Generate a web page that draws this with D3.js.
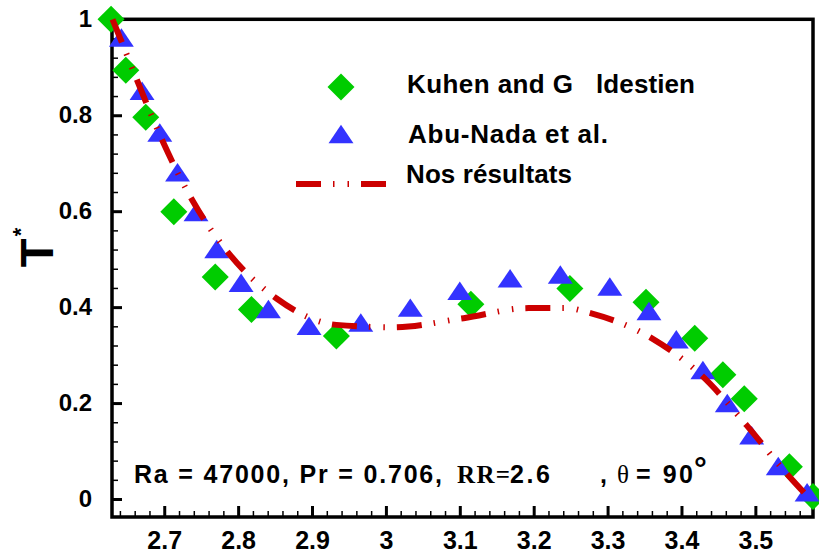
<!DOCTYPE html>
<html>
<head>
<meta charset="utf-8">
<script src="https://cdn.jsdelivr.net/npm/d3@7"></script>
<style>
body {margin: 0; background: #fff}
svg {display: block; font-family: "Liberation Sans", Arial, sans-serif; font-weight: bold}
</style>
</head>
<body>
<svg width="819" height="558"></svg>
<script>
'use strict';
// values
let aKuhenX = [2.628, 2.648, 2.675, 2.713, 2.769, 2.818, 2.933, 3.115, 3.249, 3.352, 3.418, 3.456, 3.485, 3.546, 3.578]
let aKuhenY = [1.000, 0.894, 0.796, 0.599, 0.463, 0.395, 0.340, 0.406, 0.439, 0.410, 0.335, 0.259, 0.209, 0.067, 0.005]

let aAbuX = [2.642, 2.670, 2.694, 2.718, 2.743, 2.771, 2.804, 2.841, 2.896, 2.966, 3.033,
	3.100, 3.168, 3.236, 3.303, 3.356, 3.393, 3.429, 3.462, 3.495, 3.531, 3.570]
let aAbuY = [0.962, 0.851, 0.764, 0.681, 0.598, 0.521, 0.451, 0.396, 0.361, 0.368, 0.399,
	0.434, 0.460, 0.468, 0.443, 0.392, 0.333, 0.269, 0.200, 0.133, 0.069, 0.014]

let aOursX = [2.630, 2.640, 2.664, 2.699, 2.739, 2.789, 2.852, 2.933, 3.010, 3.105, 3.193, 3.245, 3.278, 3.360, 3.429, 3.488, 3.544, 3.574]
let aOursY = [1.000, 0.962, 0.870, 0.742, 0.620, 0.509, 0.418, 0.363, 0.358, 0.377, 0.398, 0.398, 0.387, 0.335, 0.255, 0.154, 0.050, 0.000]

let aXTicks = [2.7, 2.8, 2.9, 3.0, 3.1, 3.2, 3.3, 3.4, 3.5]
let aYTicks = [0, 0.2, 0.4, 0.6, 0.8, 1]
let aLegend = ["Kuhen and G", "Abu-Nada et al.", "Nos résultats"]

let eSvg = d3.select("svg")
let dLeft = 112, dRight = 813, dTop = 19.3, dBottom = 517
let cGreen = "#00cc00", cBlue = "#3333ff", cRed = "#cc0000"
let sDash = "25,12,1.5,13,1.5,12"

let xScale = d3.scaleLinear().domain([2.6293, 3.578]).range([dLeft, dRight])
let yScale = d3.scaleLinear().domain([-0.0375, 1]).range([dBottom, dTop])

// marker shapes as d3 symbol types
let tDiamond = {draw(ctx, size) {
	let r = Math.sqrt(size / 2)
	ctx.moveTo(0, -r); ctx.lineTo(r, 0); ctx.lineTo(0, r); ctx.lineTo(-r, 0); ctx.closePath()}}
let tTriangle = {draw(ctx, size) {
	let w = Math.sqrt(size * 1.35), h = w * 0.74
	ctx.moveTo(0, -h / 2); ctx.lineTo(w / 2, h / 2); ctx.lineTo(-w / 2, h / 2); ctx.closePath()}}

// frame
eSvg.append("rect")
	.attr("x", dLeft).attr("y", dTop)
	.attr("width", dRight - dLeft).attr("height", dBottom - dTop)
	.attr("fill", "none").attr("stroke", "#000").attr("stroke-width", 3.5)

function styleAxis(g, w) {
	g.select(".domain").remove()
	g.selectAll("line").attr("stroke", "#000").attr("stroke-width", w)}

// minor ticks
let aXMinor = d3.range(2.64, 3.57, 0.02).filter(v => Math.abs(v * 10 - Math.round(v * 10)) > 1e-6)
let aYMinor = d3.range(0.04, 1, 0.04).filter(v => Math.abs(v * 5 - Math.round(v * 5)) > 1e-6)

eSvg.append("g").attr("transform", `translate(0,${dBottom})`)
	.call(d3.axisBottom(xScale).tickValues(aXMinor).tickFormat("").tickSize(-6))
	.call(g => styleAxis(g, 1.5))
eSvg.append("g").attr("transform", `translate(${dLeft},0)`)
	.call(d3.axisLeft(yScale).tickValues(aYMinor).tickFormat("").tickSize(-6))
	.call(g => styleAxis(g, 1.5))

// major ticks
let eX = eSvg.append("g").attr("transform", `translate(0,${dBottom})`)
	.call(d3.axisBottom(xScale).tickValues(aXTicks).tickFormat(d3.format("")).tickSize(-11).tickPadding(14))
	.call(g => styleAxis(g, 3))
eX.selectAll("text").attr("font-size", 25).attr("font-family", null).attr("fill", "#000")

let eY = eSvg.append("g").attr("transform", `translate(${dLeft},0)`)
	.call(d3.axisLeft(yScale).tickValues(aYTicks).tickFormat(d3.format("")).tickSize(-10).tickPadding(20))
	.call(g => styleAxis(g, 3))
eY.selectAll("text").attr("font-size", 24).attr("font-family", null).attr("fill", "#000")

// y label
eSvg.append("text")
	.attr("transform", "translate(53,253) rotate(-90)")
	.attr("text-anchor", "middle").attr("font-size", 47).text("T")
eSvg.append("text")
	.attr("transform", "translate(28,232) rotate(-90)")
	.attr("text-anchor", "middle").attr("font-size", 22).text("*")

// markers
let kuhen = aKuhenX.map((x, i) => ({x: x, y: aKuhenY[i]}))
let abu = aAbuX.map((x, i) => ({x: x, y: aAbuY[i]}))
let ours = aOursX.map((x, i) => ({x: x, y: aOursY[i]}))

eSvg.append("g").selectAll("path").data(kuhen).enter().append("path")
	.attr("transform", d => `translate(${xScale(d.x)},${yScale(d.y)})`)
	.attr("d", d3.symbol(tDiamond, 365))
	.attr("fill", cGreen)

eSvg.append("g").selectAll("path").data(abu).enter().append("path")
	.attr("transform", d => `translate(${xScale(d.x)},${yScale(d.y)})`)
	.attr("d", d3.symbol(tTriangle, 460))
	.attr("fill", cBlue)

eSvg.append("path").datum(ours)
	.attr("d", d3.line().x(d => xScale(d.x)).y(d => yScale(d.y)).curve(d3.curveMonotoneX))
	.attr("fill", "none").attr("stroke", cRed).attr("stroke-width", 6)
	.attr("stroke-dasharray", sDash)

// legend
eSvg.append("path").attr("transform", "translate(341,87)")
	.attr("d", d3.symbol(tDiamond, 365)()).attr("fill", cGreen)
eSvg.append("path").attr("transform", "translate(341,134)")
	.attr("d", d3.symbol(tTriangle, 460)()).attr("fill", cBlue)
eSvg.append("line").attr("x1", 296).attr("x2", 386).attr("y1", 184).attr("y2", 184)
	.attr("stroke", cRed).attr("stroke-width", 6).attr("stroke-dasharray", sDash)

eSvg.append("text").attr("x", 407).attr("y", 93).attr("font-size", 26)
	.attr("textLength", 166).attr("lengthAdjust", "spacing").text(aLegend[0])
eSvg.append("text").attr("x", 596).attr("y", 93).attr("font-size", 26)
	.attr("textLength", 99).attr("lengthAdjust", "spacing").text("ldestien")
eSvg.append("text").attr("x", 408).attr("y", 143).attr("font-size", 26)
	.attr("textLength", 200).attr("lengthAdjust", "spacing").text(aLegend[1])
eSvg.append("text").attr("x", 406).attr("y", 183).attr("font-size", 26)
	.attr("textLength", 166).attr("lengthAdjust", "spacing").text(aLegend[2])

// parameters annotation
let aNote = [
	{x: 134, t: "Ra = 47000, Pr = 0.706,", len: 308},
	{x: 457, t: "RR=", len: 53, serif: true},
	{x: 510, t: "2.6", len: 40},
	{x: 600, t: ","},
	{x: 617, t: "\u03b8", serif: true, normal: true},
	{x: 636, t: "= 90", len: 57}]
aNote.forEach(n => {
	let e = eSvg.append("text").attr("x", n.x).attr("y", 483).attr("font-size", 25).text(n.t)
	if (n.len) e.attr("textLength", n.len).attr("lengthAdjust", "spacing")
	if (n.serif) e.attr("font-family", "'Liberation Serif', 'Times New Roman', serif")
	if (n.normal) e.attr("font-weight", "normal")})
eSvg.append("text").attr("x", 694).attr("y", 479).attr("font-size", 32).text("\u00b0")
</script>
</body>
</html>
